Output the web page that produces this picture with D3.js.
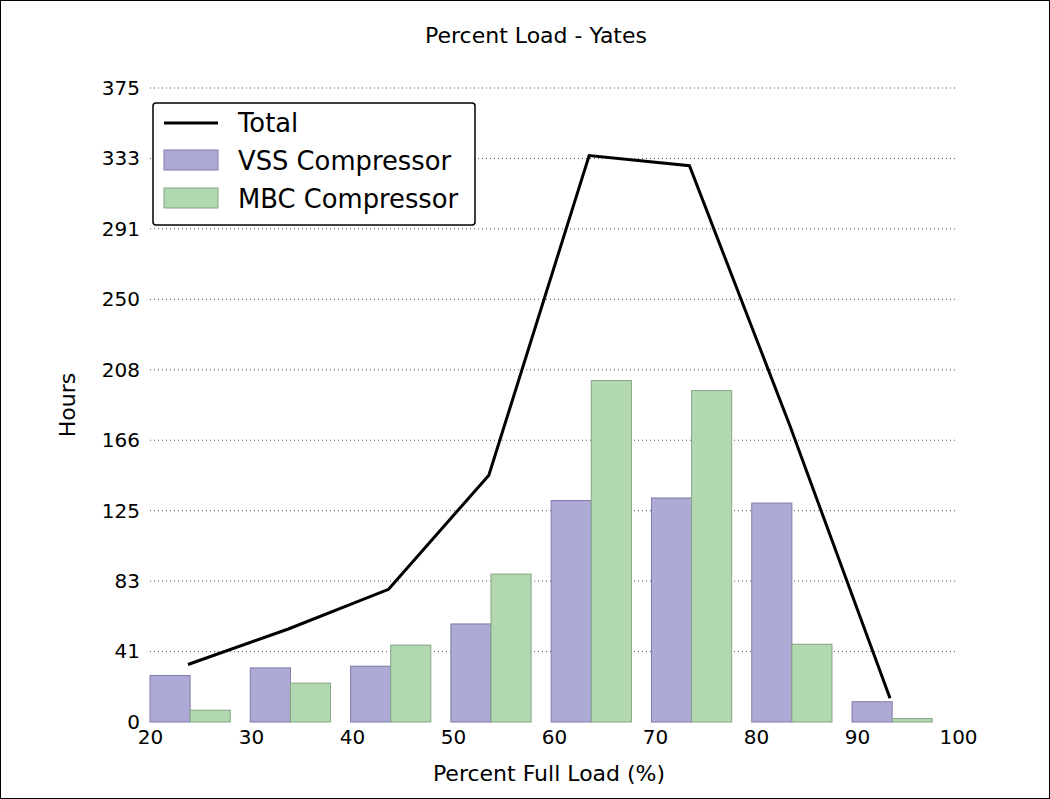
<!DOCTYPE html>
<html><head><meta charset="utf-8">
<script src="https://cdn.jsdelivr.net/npm/d3@7"></script>
<style>body{margin:0;background:#fff}svg{font-family:"DejaVu Sans",sans-serif}</style>
</head><body>
<script>
const bins = [20,29.93,39.86,49.79,59.72,69.65,79.58,89.51];
const vss = [27.5,32,33,58,131,132.5,129.5,12];
const mbc = [7,23,45.5,87.5,202,196,46,2];
const total = [34,55,78.5,146,335,329,175.5,14];
const yTicks = [0,41,83,125,166,208,250,291,333,375];
const yTickVals = yTicks.map((t,i)=>i*375/9);
const xTicks = [20,30,40,50,60,70,80,90,100];
const step = 9.93;

const W=1050,H=799;
const svg=d3.select("body").append("svg").attr("width",W).attr("height",H);
svg.append("rect").attr("x",0.5).attr("y",0.5).attr("width",W-1).attr("height",H-1).attr("fill","#fff").attr("stroke","#000");
const x=d3.scaleLinear().domain([20,100]).range([150,958]);
const y=d3.scaleLinear().domain([0,375]).range([722,88]);
const bw = x(20+step*0.4)-x(20);

const g=svg.append("g");
g.selectAll(".grid").data(yTickVals.slice(1)).join("line")
 .attr("x1",150).attr("x2",958).attr("y1",d=>y(d)).attr("y2",d=>y(d))
 .attr("stroke","#555").attr("stroke-dasharray","1,3").attr("stroke-width",1);

g.selectAll(".v").data(bins).join("rect")
 .attr("x",(d)=>x(d)).attr("width",bw).attr("y",(d,i)=>y(vss[i])).attr("height",(d,i)=>y(0)-y(vss[i]))
 .attr("fill","#aeaad6").attr("stroke","#7f7bab").attr("stroke-width",1);
g.selectAll(".m").data(bins).join("rect")
 .attr("x",(d)=>x(d+step*0.4)).attr("width",bw).attr("y",(d,i)=>y(mbc[i])).attr("height",(d,i)=>y(0)-y(mbc[i]))
 .attr("fill","#b2d8b0").attr("stroke","#86a585").attr("stroke-width",1);

g.append("path").datum(bins).attr("fill","none").attr("stroke","#000").attr("stroke-width",3)
 .attr("d",d3.line().x(d=>x(d+3.76)).y((d,i)=>y(total[i])));

const ya=d3.axisLeft(y).tickValues(yTickVals).tickFormat((d,i)=>yTicks[i]).tickSize(0).tickPadding(10);
const ax=g.append("g").attr("transform","translate(150,0)").call(ya);
ax.select(".domain").remove();
ax.selectAll("text").attr("font-size",20).attr("fill","#000").attr("font-family","DejaVu Sans");
const xa=d3.axisBottom(x).tickValues(xTicks).tickSize(0).tickPadding(8);
const bx=g.append("g").attr("transform","translate(0,722)").call(xa);
bx.select(".domain").remove();
bx.selectAll("text").attr("font-size",20).attr("fill","#000").attr("font-family","DejaVu Sans");

svg.append("text").attr("x",536).attr("y",43).attr("text-anchor","middle").attr("font-size",22).text("Percent Load - Yates");
svg.append("text").attr("x",549).attr("y",781).attr("text-anchor","middle").attr("font-size",22).text("Percent Full Load (%)");
svg.append("text").attr("transform","translate(75,405) rotate(-90)").attr("text-anchor","middle").attr("font-size",22).text("Hours");

const L=svg.append("g");
L.append("rect").attr("x",153).attr("y",103).attr("width",322).attr("height",122).attr("rx",3).attr("fill","#fff").attr("stroke","#000").attr("stroke-width",1.5);
L.append("line").attr("x1",164).attr("x2",218).attr("y1",123).attr("y2",123).attr("stroke","#000").attr("stroke-width",3);
L.append("rect").attr("x",164).attr("y",150).attr("width",54).attr("height",20).attr("fill","#aeaad6").attr("stroke","#7f7bab");
L.append("rect").attr("x",164).attr("y",188).attr("width",54).attr("height",20).attr("fill","#b2d8b0").attr("stroke","#86a585");
[["Total",132],["VSS Compressor",170],["MBC Compressor",208]].forEach(([t,yy])=>
 L.append("text").attr("x",238).attr("y",yy).attr("font-size",25.8).text(t));
</script>
</body></html>
